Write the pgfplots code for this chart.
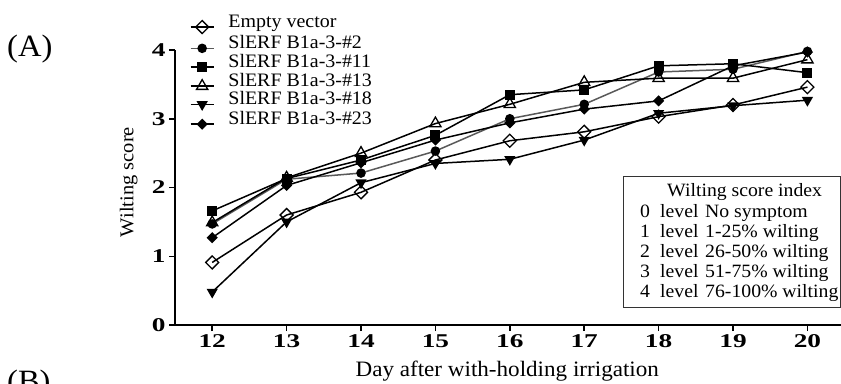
\documentclass[border=0pt]{standalone}
\usepackage{fontspec}
\setmainfont{Liberation Serif}[FakeStretch=1.05]
\newfontfamily\tickfont{Liberation Serif}[FakeStretch=1.4]
\usepackage{pgfplots}
\pgfplotsset{compat=1.18}
\newcommand{\fs}[1]{\fontsize{#1bp}{1.2\dimexpr#1bp\relax}\selectfont}
\begin{document}
\begin{tikzpicture}[x=1bp,y=1bp]
\useasboundingbox (0,0) rectangle (841,383);
\begin{axis}[
  at={(175bp,58bp)}, anchor=south west,
  scale only axis, width=665.9bp, height=275bp,
  xmin=11.5, xmax=20.45, ymin=0, ymax=4,
  axis x line=bottom, axis y line=left,
  axis line style={-, line width=2bp},
  xtick={12,...,20}, ytick={0,1,2,3,4},
  tick align=outside, major tick length=6bp,
  tick style={line width=1.5bp, black},
  /pgf/number format/assume math mode=true,
  ticklabel style={font=\tickfont\bfseries\fs{19.5}},
  clip=false,
  xlabel={Day after with-holding irrigation},
  xlabel style={font=\fs{22}, at={(axis description cs:0.499,-0.189)}, anchor=base},
  ylabel={Wilting score},
  ylabel style={font=\fs{19.5}, at={(axis description cs:-0.0627,0.52)}, anchor=base},
  legend style={draw=none, fill=none, inner sep=0pt, outer sep=0pt,
    at={(axis description cs:0.0224,1.129)}, anchor=north west,
    row sep=2.3bp,
    nodes={inner sep=0pt, text height=12.5bp, text depth=3.5bp, anchor=base west, font=\fs{19}}},
  legend cell align=left,
  legend image code/.code={
    \draw[mark repeat=2,mark phase=2] plot coordinates {(0bp,0bp) (11.5bp,0bp) (23bp,0bp)};
    \path (37bp,0bp);
  },
  every axis plot/.append style={line width=1.5bp, black},
]
% Empty vector
\addplot[mark=square, mark size=4.6bp, mark options={rotate=45, fill=white, solid, line width=1.3bp}]
  coordinates {(12,0.91) (13,1.60) (14,1.93) (15,2.40) (16,2.68) (17,2.81) (18,3.03) (19,3.20) (20,3.46)};
\addlegendentry{Empty vector}
% #2
\addplot[black!65, mark=*, mark size=4bp, mark options={black, fill=black, solid}]
  coordinates {(12,1.47) (13,2.12) (14,2.21) (15,2.53) (16,3.00) (17,3.21) (18,3.68) (19,3.72) (20,3.98)};
\addlegendentry{SlERF B1a-3-\#2}
% #11
\addplot[mark=square*, mark size=4.2bp, mark options={fill=black, solid}]
  coordinates {(12,1.66) (13,2.13) (14,2.40) (15,2.76) (16,3.35) (17,3.42) (18,3.77) (19,3.80) (20,3.67)};
\addlegendentry{SlERF B1a-3-\#11}
% #13
\addplot[mark=triangle, mark size=6.5bp, mark options={fill=white, solid, line width=1.3bp}]
  coordinates {(12,1.49) (13,2.14) (14,2.50) (15,2.93) (16,3.21) (17,3.53) (18,3.59) (19,3.59) (20,3.86)};
\addlegendentry{SlERF B1a-3-\#13}
% #18
\addplot[mark=triangle*, mark size=5bp, mark options={rotate=180, fill=black, solid}]
  coordinates {(12,0.48) (13,1.50) (14,2.07) (15,2.35) (16,2.41) (17,2.69) (18,3.08) (19,3.19) (20,3.27)};
\addlegendentry{SlERF B1a-3-\#18}
% #23
\addplot[mark=square*, mark size=3.2bp, mark options={rotate=45, fill=black, solid}]
  coordinates {(12,1.27) (13,2.03) (14,2.36) (15,2.69) (16,2.94) (17,3.14) (18,3.26) (19,3.77) (20,3.97)};
\addlegendentry{SlERF B1a-3-\#23}
\end{axis}
% panel letters
\node[anchor=base west, inner sep=0pt, font=\fs{31}] at (7,327) {(A)};
\node[anchor=north west, inner sep=0pt, font=\fs{31}] at (7,13) {(B)};
% wilting score index box
\draw[line width=1bp, black!80] (623,76) rectangle (840,207);
\begin{scope}[every node/.style={anchor=base west, inner sep=0pt, font=\fs{18.8}}]
\node at (667,187) {Wilting score index};
\node at (640,166) {0}; \node at (660,166) {level}; \node at (705,166) {No symptom};
\node at (640,146) {1}; \node at (660,146) {level}; \node at (705,146) {1-25\% wilting};
\node at (640,126) {2}; \node at (660,126) {level}; \node at (705,126) {26-50\% wilting};
\node at (640,106) {3}; \node at (660,106) {level}; \node at (705,106) {51-75\% wilting};
\node at (640,86) {4}; \node at (660,86) {level}; \node at (705,86) {76-100\% wilting};
\end{scope}
\end{tikzpicture}
\end{document}
